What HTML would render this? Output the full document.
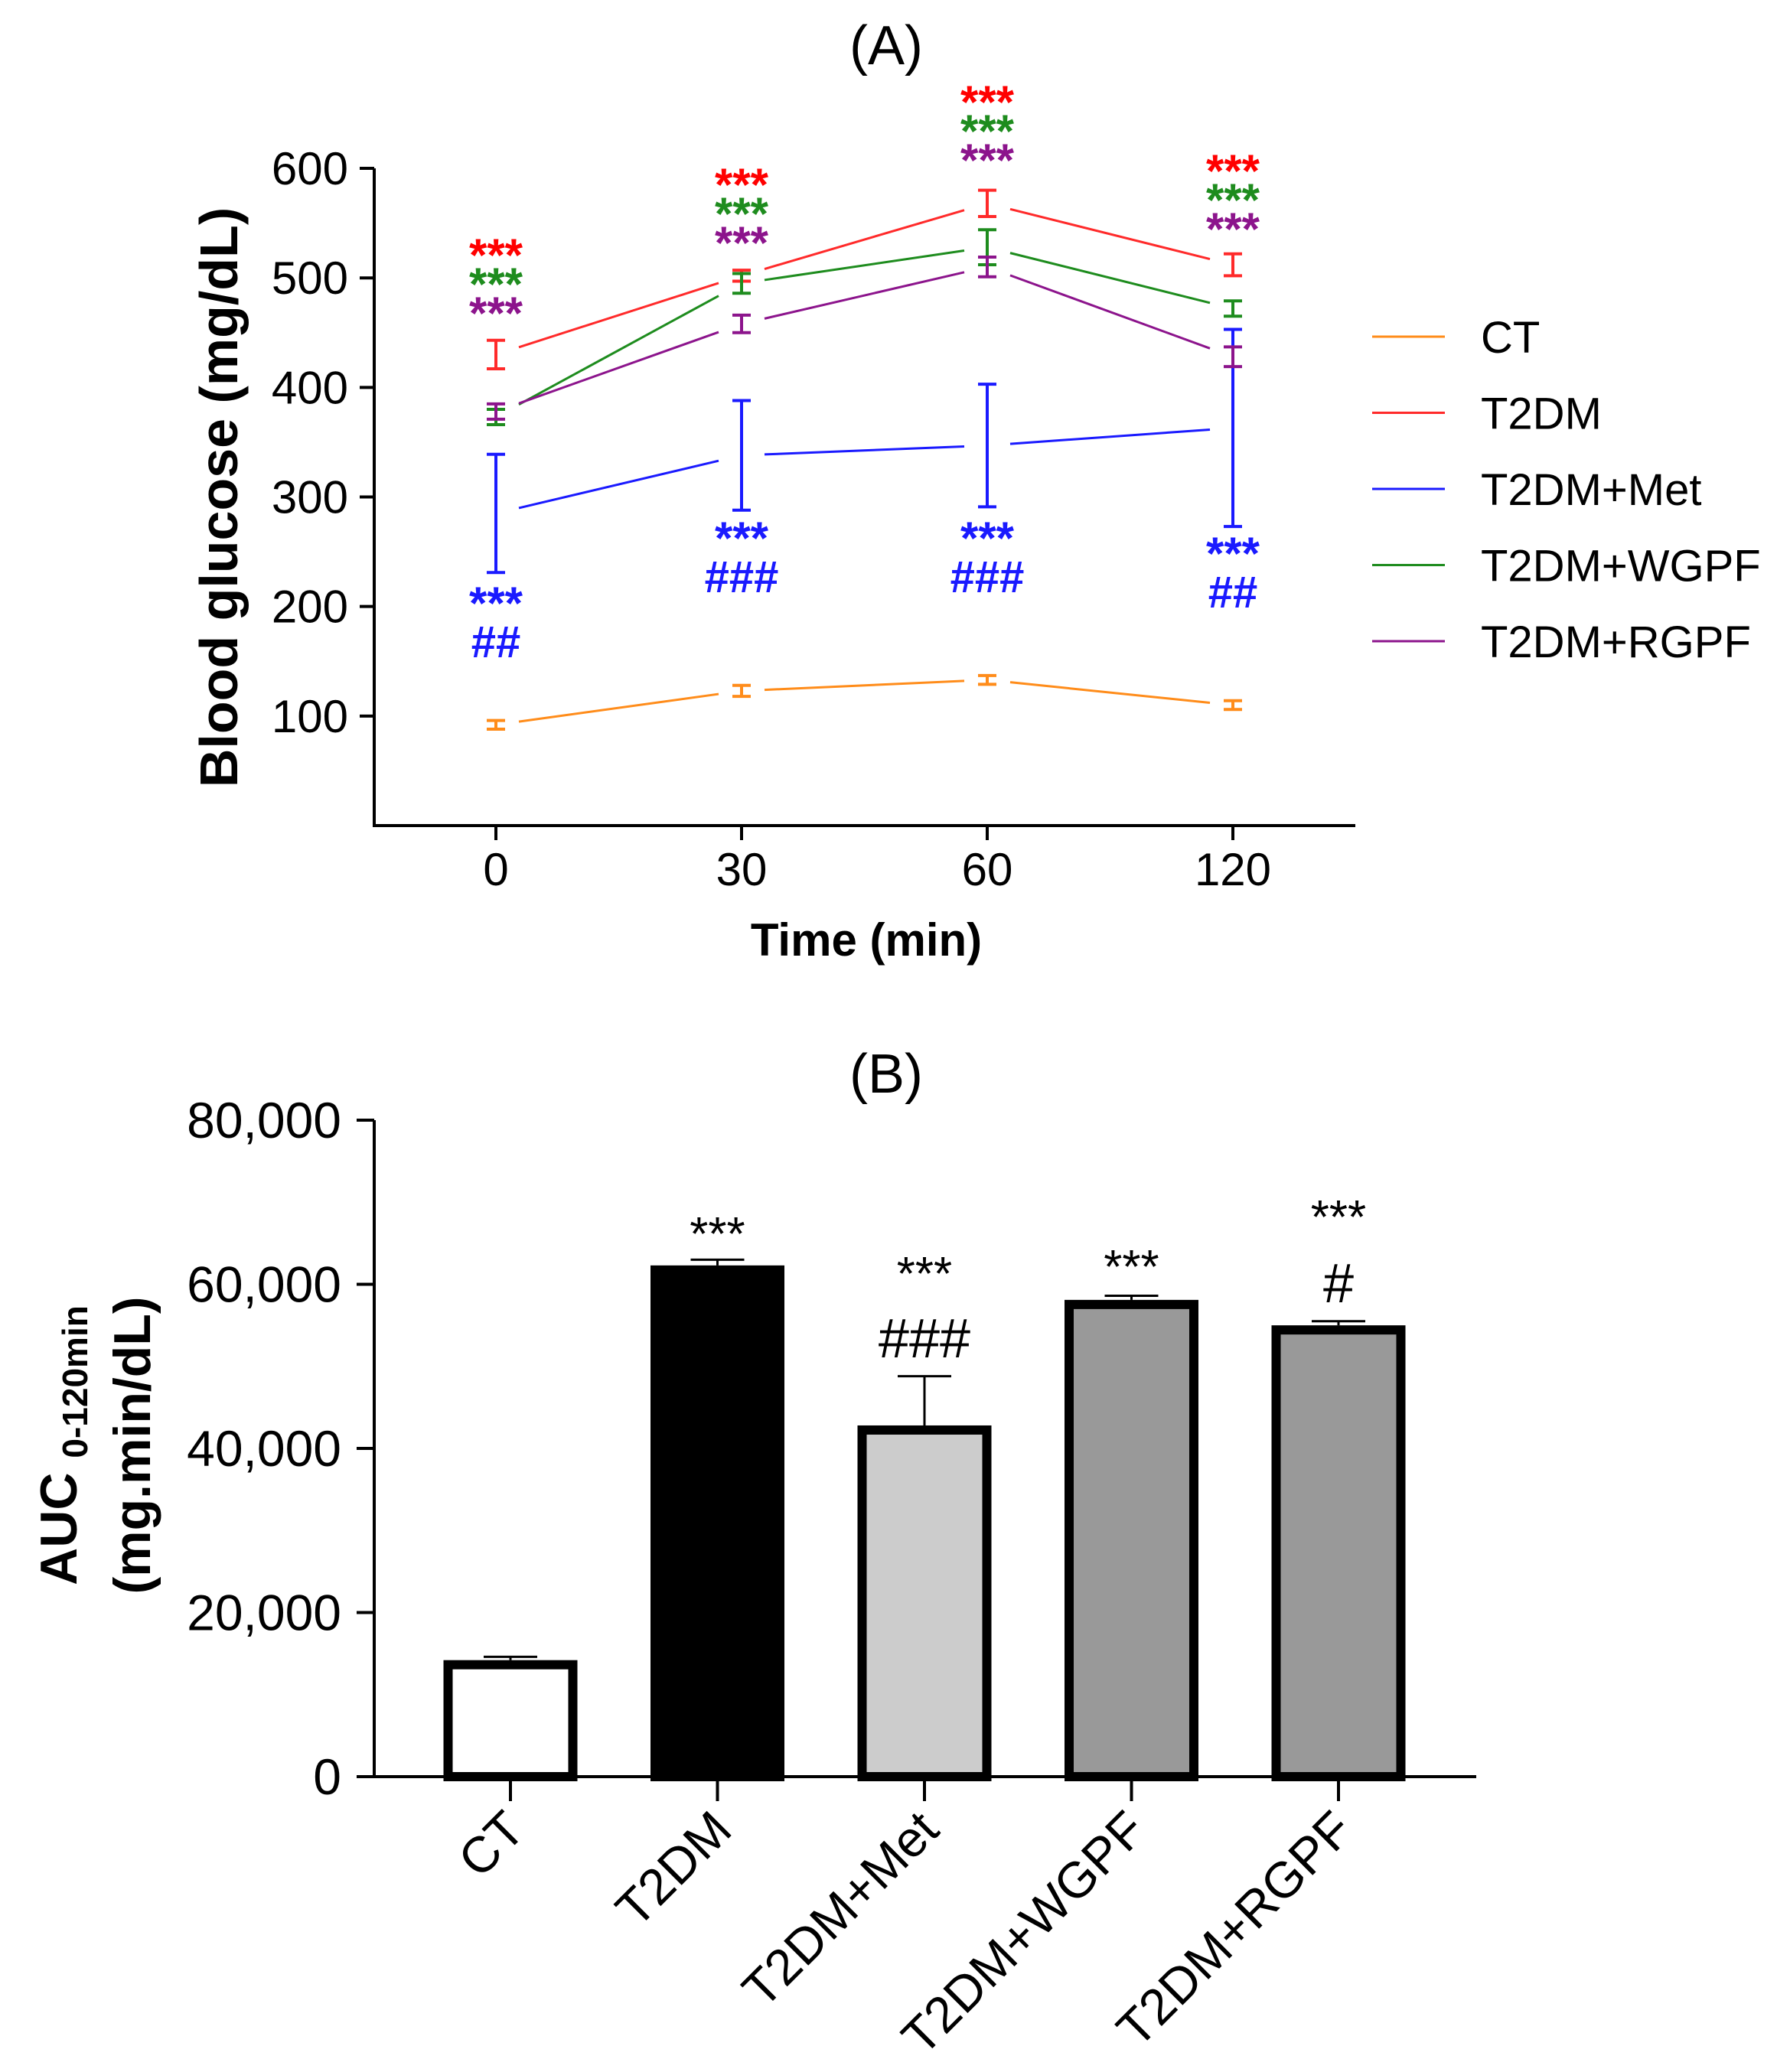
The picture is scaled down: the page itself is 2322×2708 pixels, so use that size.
<!DOCTYPE html>
<html><head><meta charset="utf-8"><style>
html,body{margin:0;padding:0;background:#fff}
svg{display:block;font-family:"Liberation Sans",Arial,sans-serif}
</style></head><body>
<svg id="fig" width="2322" height="2708" viewBox="0 0 2322 2708" xmlns="http://www.w3.org/2000/svg">
<text x="1158" y="84" font-size="72" text-anchor="middle">(A)</text>
<text x="1158" y="1428" font-size="72" text-anchor="middle">(B)</text>
<g id="ga"></g>
<g id="gb"></g>
</svg>
<script>
// ---- Panel A data ----
const timeLabels = ["0","30","60","120"];
const seriesNames = ["CT","T2DM","T2DM+Met","T2DM+WGPF","T2DM+RGPF"];
const seriesColors = ["#ff8c1a","#ff2a2a","#1a1aff","#1e8c1e","#8c148c"];
const ctVals = [92,123,133,110];
const ctErr = [4,5,4,4];
const t2dmVals = [430,502,568,512];
const t2dmErr = [13,5,12,10];
const metVals = [285,338,347,363];
const metErr = [54,50,56,90];
const wgpfVals = [373,495,528,472];
const wgpfErr = [7,9,16,7];
const rgpfVals = [378,458,510,428];
const rgpfErr = [7,8,9,9];
const yTicksA = [100,200,300,400,500,600];
// ---- Panel B data ----
const groups = ["CT","T2DM","T2DM+Met","T2DM+WGPF","T2DM+RGPF"];
const aucVals = [14200,62300,42800,58100,55000];
const aucErr = [400,700,6000,500,500];
const barFills = ["#ffffff","#000000","#cccccc","#999999","#999999"];
const yTicksB = [0,20000,40000,60000,80000];
const yTickLabelsB = ["0","20,000","40,000","60,000","80,000"];

const NS="http://www.w3.org/2000/svg";
function mk(parent,tag,attrs,text){const e=document.createElementNS(NS,tag);for(const k in attrs)e.setAttribute(k,attrs[k]);if(text!==undefined)e.textContent=text;parent.appendChild(e);return e;}

// ---- Panel A ----
const ga=document.getElementById('ga');
const xA=i=>648+i*321;
const yA=v=>1079-v*1.4316;
let ax=mk(ga,'path',{d:`M489 ${yA(600)} V1079 H1771`,stroke:'#000','stroke-width':4,fill:'none'});


yTicksA.forEach(v=>{
  const t=mk(ga,'line',{x1:470,x2:489,y1:yA(v),y2:yA(v),stroke:'#000','stroke-width':4});
  
  
  const l=mk(ga,'text',{x:455,y:yA(v)+21,'font-size':60,'text-anchor':'end'},String(v));
  
  
});
timeLabels.forEach((s,i)=>{
  const t=mk(ga,'line',{x1:xA(i),x2:xA(i),y1:1079,y2:1098,stroke:'#000','stroke-width':4});
  
  
  const l=mk(ga,'text',{x:xA(i),y:1157,'font-size':60,'text-anchor':'middle'},s);
  
  
});
let xt=mk(ga,'text',{x:1132,y:1249,'font-size':60,'font-weight':'bold','text-anchor':'middle'},'Time (min)');


let yt=mk(ga,'text',{x:0,y:0,'font-size':70,'font-weight':'bold','text-anchor':'middle',transform:'translate(310,650) rotate(-90)'},'Blood glucose (mg/dL)');



const allVals=[ctVals,t2dmVals,metVals,wgpfVals,rgpfVals];
const allErr=[ctErr,t2dmErr,metErr,wgpfErr,rgpfErr];
allVals.forEach((vals,s)=>{
  const c=seriesColors[s];
  for(let i=0;i<vals.length-1;i++){
    const x1=xA(i),x2=xA(i+1),y1=yA(vals[i]),y2=yA(vals[i+1]);
    const g=30/(x2-x1);
    const seg=mk(ga,'line',{x1:x1+(x2-x1)*g,y1:y1+(y2-y1)*g,x2:x2-(x2-x1)*g,y2:y2-(y2-y1)*g,stroke:c,'stroke-width':3});
    
    
  }
  vals.forEach((v,i)=>{
    const e=allErr[s][i],x=xA(i);
    const eb=mk(ga,'path',{d:`M${x-12} ${yA(v+e)} H${x+12} M${x} ${yA(v+e)} V${yA(v-e)} M${x-12} ${yA(v-e)} H${x+12}`,stroke:c,'stroke-width':4,fill:'none'});
    
    
  });
});
// significance marks
const starTopY=[[318,356,394],[226,264,302],[118,156,194],[208,246,284]];
const starCols=["#ff0000","#1e8c1e","#8c148c"];
starTopY.forEach((ys,i)=>ys.forEach((y,k)=>{
  const t=mk(ga,'text',{x:xA(i),y:y+36,'font-size':60,'font-weight':'bold','text-anchor':'middle',fill:starCols[k]},'***');
  
  
}));
const blueStarY=[773,688,688,708];
const blueHash=["##","###","###","##"];
blueStarY.forEach((y,i)=>{
  const t=mk(ga,'text',{x:xA(i),y:y+36,'font-size':60,'font-weight':'bold','text-anchor':'middle',fill:'#1a1aff'},'***');
  
  
  const h=mk(ga,'text',{x:xA(i),y:y+86,'font-size':58,'font-weight':'bold','text-anchor':'middle',fill:'#1a1aff'},blueHash[i]);
  
  
});
// legend
seriesNames.forEach((n,s)=>{
  const y=440+s*99.5;
  const l=mk(ga,'line',{x1:1793,x2:1888,y1:y,y2:y,stroke:seriesColors[s],'stroke-width':3});
  
  
  const t=mk(ga,'text',{x:1935,y:y+21,'font-size':58},n);
  
  
});

// ---- Panel B ----
const gb=document.getElementById('gb');
const xB=i=>667+i*270.5;
const yB=v=>2322-v*0.010725;
yTicksB.forEach((v,i)=>{
  const t=mk(gb,'line',{x1:466,x2:489,y1:yB(v),y2:yB(v),stroke:'#000','stroke-width':4});
  
  
  const l=mk(gb,'text',{x:446,y:yB(v)+23,'font-size':66,'text-anchor':'end'},yTickLabelsB[i]);
  
  
});
groups.forEach((g,i)=>{
  const x=xB(i),w=163,v=aucVals[i],e=aucErr[i];
  const eb=mk(gb,'path',{d:`M${x} ${yB(v)} V${yB(v+e)} M${x-35} ${yB(v+e)} H${x+35}`,stroke:'#000','stroke-width':3,fill:'none'});
  
  
  const r=mk(gb,'rect',{x:x-w/2,y:yB(v)+6,width:w,height:yB(0)-yB(v)-6,fill:barFills[i],stroke:'#000','stroke-width':12});
  
  
  const t=mk(gb,'line',{x1:x,x2:x,y1:2322,y2:2354,stroke:'#000','stroke-width':4});
  
  
  const l=mk(gb,'text',{x:0,y:0,'font-size':66,'text-anchor':'end',transform:`translate(${x+22},${2395}) rotate(-45)`},g);
  
  
});
let bx=mk(gb,'path',{d:`M489 ${yB(80000)} V2322 H1929`,stroke:'#000','stroke-width':4,fill:'none'});


const bStarY=[null,1598,1650,1641,1576];
const bHash=[null,null,"###",null,"#"];
const bHashY=[null,null,1750,null,1678];
groups.forEach((g,i)=>{
  if(bStarY[i]){
    const t=mk(gb,'text',{x:xB(i),y:bStarY[i]+36,'font-size':62,'text-anchor':'middle'},'***');
    
    
  }
  if(bHash[i]){
    const h=mk(gb,'text',{x:xB(i),y:bHashY[i]+24,'font-size':72,'text-anchor':'middle'},bHash[i]);
    
    
  }
});
let y1=mk(gb,'text',{x:0,y:0,'font-size':68,'font-weight':'bold','text-anchor':'middle',transform:'translate(100,1889) rotate(-90)'});


mk(y1,'tspan',{},'AUC ');
mk(y1,'tspan',{'font-size':46,dy:14},'0-120min');
let y2=mk(gb,'text',{x:0,y:0,'font-size':68,'font-weight':'bold','text-anchor':'middle',transform:'translate(196,1889) rotate(-90)'},'(mg.min/dL)');


</script>
</body></html>
